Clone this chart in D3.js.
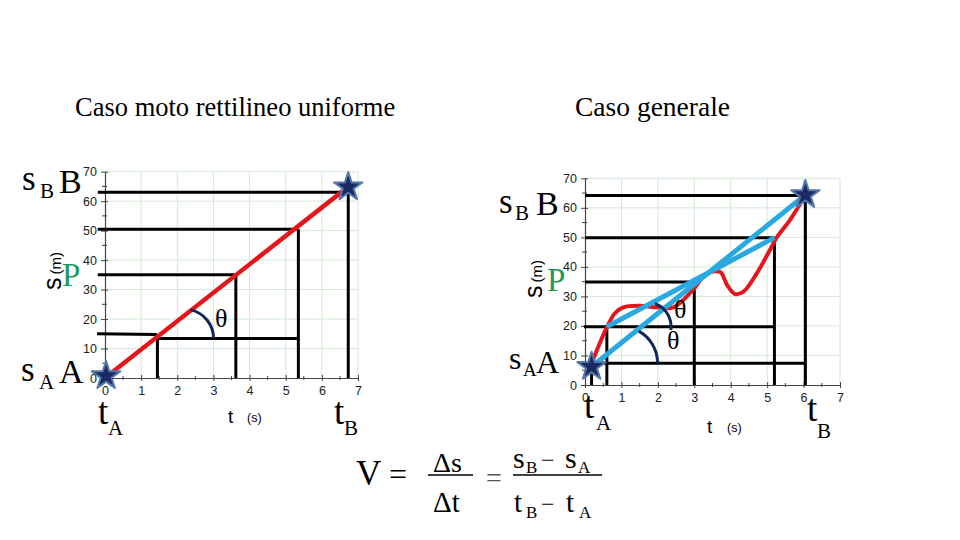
<!DOCTYPE html>
<html><head><meta charset="utf-8">
<script src="https://cdn.jsdelivr.net/npm/d3@7"></script>
<style>html,body{margin:0;padding:0;background:#fff;} svg{display:block;}</style>
</head><body><svg id="c" width="960" height="540"></svg>
<script>
// ---------- data ----------
const titles = ["Caso moto rettilineo uniforme", "Caso generale"];
const xTicks = [0, 1, 2, 3, 4, 5, 6, 7];
const yTicks = [0, 10, 20, 30, 40, 50, 60, 70];
const xMinor = [0.5, 1.5, 2.5, 3.5, 4.5, 5.5, 6.5];
const yMinor = [5, 15, 25, 35, 45, 55, 65];

// left chart (uniform motion)
const leftStarT = [0.03, 6.73];
const leftStarS = [0.7, 64.8];
const leftRedT = [0.05, 6.7];
const leftRedS = [0.5, 64.6];
const leftHLevel = [63, 50.5, 35];
const leftHEnd = [6.73, 5.35, 3.62];
const leftLowT = [-0.22, 1.4, 1.45, 5.35];
const leftLowS = [15, 14.8, 13.4, 13.4];
const leftVT = [1.45, 3.62, 5.35, 6.73];
const leftVTop = [13.4, 35, 50.5, 63];
const leftArcCenter = [[2.2, 13.5]];

// right chart (general case)
const rightStarT = [0.18, 6.05];
const rightStarS = [6.2, 64.4];
const rightCurveT = [0.22, 0.4, 0.6, 0.82, 1.05, 1.5, 2.0, 2.4, 2.7, 3.0, 3.25, 3.5, 3.72, 3.9, 4.12, 4.35, 4.72, 5.08, 5.25, 5.63, 6.0];
const rightCurveS = [8.5, 14, 19.5, 24.3, 26.3, 26.8, 26.3, 26.2, 28.8, 32.8, 36.7, 38.4, 38.2, 33.9, 30.8, 31.6, 37.9, 45.8, 49.7, 55.9, 63.3];
const rightHLevel = [64.2, 49.9, 34.9, 19.75, 7.35];
const rightHStart = [0, 0, 0, -0.03, 0.14];
const rightHEnd = [6.05, 5.2, 3.0, 5.2, 6.05];
const rightVT = [0.18, 0.6, 3.0, 5.2, 6.05];
const rightVTop = [6.2, 19.75, 34.9, 49.9, 64.2];
const rightChordT = [[0.18, 6.05], [0.6, 5.2]];
const rightChordS = [[6.2, 64.4], [19.75, 49.9]];
const rightArcCenter = [[1.69, 19.75], [0.99, 7.45]];

// ---------- drawing ----------
const svg = d3.select("#c");
const SERIF = "Liberation Serif, Times New Roman, serif";
const SANS = "Liberation Sans, Arial, sans-serif";
const BLACK = "#000";
const RED = "#e3161c";
const BLUE = "#2aa8e0";
const GRID = "#d3ead3";
const NAVY = "#13275e";

const xL = d3.scaleLinear([0, 7], [105, 358]);
const yL = d3.scaleLinear([0, 70], [378, 171.7]);
const xR = d3.scaleLinear([0, 7], [585, 840]);
const yR = d3.scaleLinear([0, 70], [385, 178.3]);

function frame(x, y) {
  const g = svg.append("g");
  g.selectAll(".gv").data(xTicks.slice(1)).join("line")
    .attr("x1", d => x(d)).attr("x2", d => x(d))
    .attr("y1", y(0)).attr("y2", y(70)).attr("stroke", GRID).attr("stroke-width", 1);
  g.selectAll(".gh").data(yTicks.slice(1)).join("line")
    .attr("x1", x(0)).attr("x2", x(7))
    .attr("y1", d => y(d)).attr("y2", d => y(d)).attr("stroke", GRID).attr("stroke-width", 1);
  const ax = g.append("g").attr("transform", `translate(0,${y(0)})`)
    .call(d3.axisBottom(x).tickValues(xTicks).tickSize(3).tickSizeOuter(0).tickPadding(5).tickFormat(d3.format("d")));
  ax.selectAll(".tick line").attr("y1", -3).attr("stroke", "#444");
  ax.select(".domain").attr("stroke", "#444").attr("stroke-width", 1.2);
  ax.selectAll("text").attr("font-family", SANS).attr("font-size", 12.5).attr("fill", "#222");
  g.selectAll(".xm").data(xMinor).join("line")
    .attr("x1", d => x(d)).attr("x2", d => x(d))
    .attr("y1", y(0) - 2).attr("y2", y(0) + 2).attr("stroke", "#444");
  const ay = g.append("g").attr("transform", `translate(${x(0)},0)`)
    .call(d3.axisLeft(y).tickValues(yTicks).tickSize(4).tickSizeOuter(0).tickPadding(4).tickFormat(d3.format("d")));
  ay.selectAll(".tick line").attr("x1", 3).attr("stroke", "#444");
  ay.select(".domain").attr("stroke", "#444").attr("stroke-width", 1.2);
  ay.selectAll("text").attr("font-family", SANS).attr("font-size", 12.5).attr("fill", "#222");
  g.selectAll(".ym").data(yMinor).join("line")
    .attr("x1", x(0) - 3).attr("x2", x(0) + 2)
    .attr("y1", d => y(d)).attr("y2", d => y(d)).attr("stroke", "#444");
}

frame(xL, yL);
frame(xR, yR);

function seg(x1, y1, x2, y2, color, w) {
  svg.append("line").attr("x1", x1).attr("y1", y1).attr("x2", x2).attr("y2", y2)
    .attr("stroke", color).attr("stroke-width", w).attr("stroke-linecap", "butt");
}

// ---- left guides ----
leftHLevel.forEach((v, i) => seg(xL(-0.2), yL(v), xL(leftHEnd[i]), yL(v), BLACK, 3));
svg.append("path")
  .attr("d", d3.line().x(d => xL(d[0])).y(d => yL(d[1]))(leftLowT.map((t, i) => [t, leftLowS[i]])))
  .attr("fill", "none").attr("stroke", BLACK).attr("stroke-width", 3);
leftVT.forEach((t, i) => seg(xL(t), yL(leftVTop[i]), xL(t), yL(0), BLACK, 3));
seg(xL(leftRedT[0]), yL(leftRedS[0]), xL(leftRedT[1]), yL(leftRedS[1]), RED, 4.5);

// ---- right guides ----
rightHLevel.forEach((v, i) => seg(xR(rightHStart[i]), yR(v), xR(rightHEnd[i]), yR(v), BLACK, 3));
rightVT.forEach((t, i) => seg(xR(t), yR(rightVTop[i]), xR(t), yR(0), BLACK, 3));
svg.append("path")
  .attr("d", d3.line().curve(d3.curveCatmullRom.alpha(0.5)).x(d => xR(d[0])).y(d => yR(d[1]))(rightCurveT.map((t, i) => [t, rightCurveS[i]])))
  .attr("fill", "none").attr("stroke", RED).attr("stroke-width", 4).attr("stroke-linecap", "round");
rightChordT.forEach((t, i) => seg(xR(t[0]), yR(rightChordS[i][0]), xR(t[1]), yR(rightChordS[i][1]), BLUE, 5));

// ---- arcs ----
function arc(cx, cy, r, a0, a1) {
  const p = d3.path();
  p.arc(cx, cy, r, a0 * Math.PI / 180, a1 * Math.PI / 180);
  svg.append("path").attr("d", p.toString()).attr("fill", "none").attr("stroke", NAVY).attr("stroke-width", 3);
}
arc(xL(leftArcCenter[0][0]), yL(leftArcCenter[0][1]), 29, -78, 0);
arc(xR(rightArcCenter[0][0]), yR(rightArcCenter[0][1]), 24.5, -70, 8);
arc(xR(rightArcCenter[1][0]), yR(rightArcCenter[1][1]), 36.5, -61, 0);

// ---- stars ----
function star(x, y) {
  svg.append("path").attr("d", d3.symbol(d3.symbolStar, 250)())
    .attr("transform", `translate(${x},${y})`)
    .attr("fill", "#1a2b63").attr("stroke", "#5577aa").attr("stroke-width", 2).attr("stroke-linejoin", "round");
}
leftStarT.forEach((t, i) => star(xL(t), yL(leftStarS[i])));
rightStarT.forEach((t, i) => star(xR(t), yR(rightStarS[i])));

// ---- texts ----
function txt(x, y, s, size, opts = {}) {
  return svg.append("text").attr("x", x).attr("y", y).text(s)
    .attr("font-family", opts.font || SERIF).attr("font-size", size)
    .attr("fill", opts.fill || "#000").attr("text-anchor", opts.anchor || "start");
}
txt(75, 116, titles[0], 26.5);
txt(575, 116, titles[1], 27.5);

function sAxisLabel(x, y) {
  svg.append("text").attr("transform", `translate(${x},${y}) rotate(-90)`)
    .attr("font-family", SANS)
    .call(t => {
      t.append("tspan").attr("font-size", 25).text("s");
      t.append("tspan").attr("font-size", 15).attr("dx", 3).text("(m)");
    });
}

// left labels
txt(22, 190, "s", 35); txt(40, 198, "B", 21); txt(59, 193, "B", 34);
txt(21, 381, "s", 35); txt(39, 389, "A", 21); txt(59, 383, "A", 34);
txt(62, 286, "P", 33, { fill: "#1f9a5c" });
sAxisLabel(61, 290);
txt(98, 424, "t", 37); txt(108, 435, "A", 21);
txt(228, 423, "t", 19, { font: SANS }); txt(247, 422, "(s)", 12.5, { font: SANS });
txt(334, 424, "t", 37); txt(344, 435, "B", 21);
txt(215, 327, "θ", 26);

// right labels
txt(499, 213, "s", 35); txt(515, 220, "B", 21); txt(536, 215, "B", 34);
txt(509, 369, "s", 32); txt(523, 376, "A", 19); txt(536, 373, "A", 32);
txt(547, 291, "P", 33, { fill: "#1f9a5c" });
sAxisLabel(542, 298);
txt(584, 418, "t", 37); txt(596, 430, "A", 21);
txt(707, 433, "t", 19, { font: SANS }); txt(727, 432, "(s)", 12.5, { font: SANS });
txt(807, 421, "t", 37); txt(817, 438, "B", 21);
txt(674, 318, "θ", 26);
txt(667, 349, "θ", 26);

// formula
txt(356, 485, "V", 35); txt(389, 485, "=", 32);
txt(433, 472, "Δs", 28);
seg(428, 475, 473, 475, BLACK, 1.5);
txt(433, 512, "Δt", 29);
txt(486, 487, "=", 28, { fill: "#555" });
txt(513, 468, "s", 30); txt(526, 473, "B", 17); txt(541, 468, "−", 24); txt(565, 468, "s", 30); txt(578, 473, "A", 17);
seg(513, 475, 602, 475, BLACK, 1.5);
txt(514, 512, "t", 29); txt(526, 518, "B", 17); txt(541, 512, "−", 24); txt(566, 512, "t", 29); txt(579, 518, "A", 17);
</script>
</body></html>
